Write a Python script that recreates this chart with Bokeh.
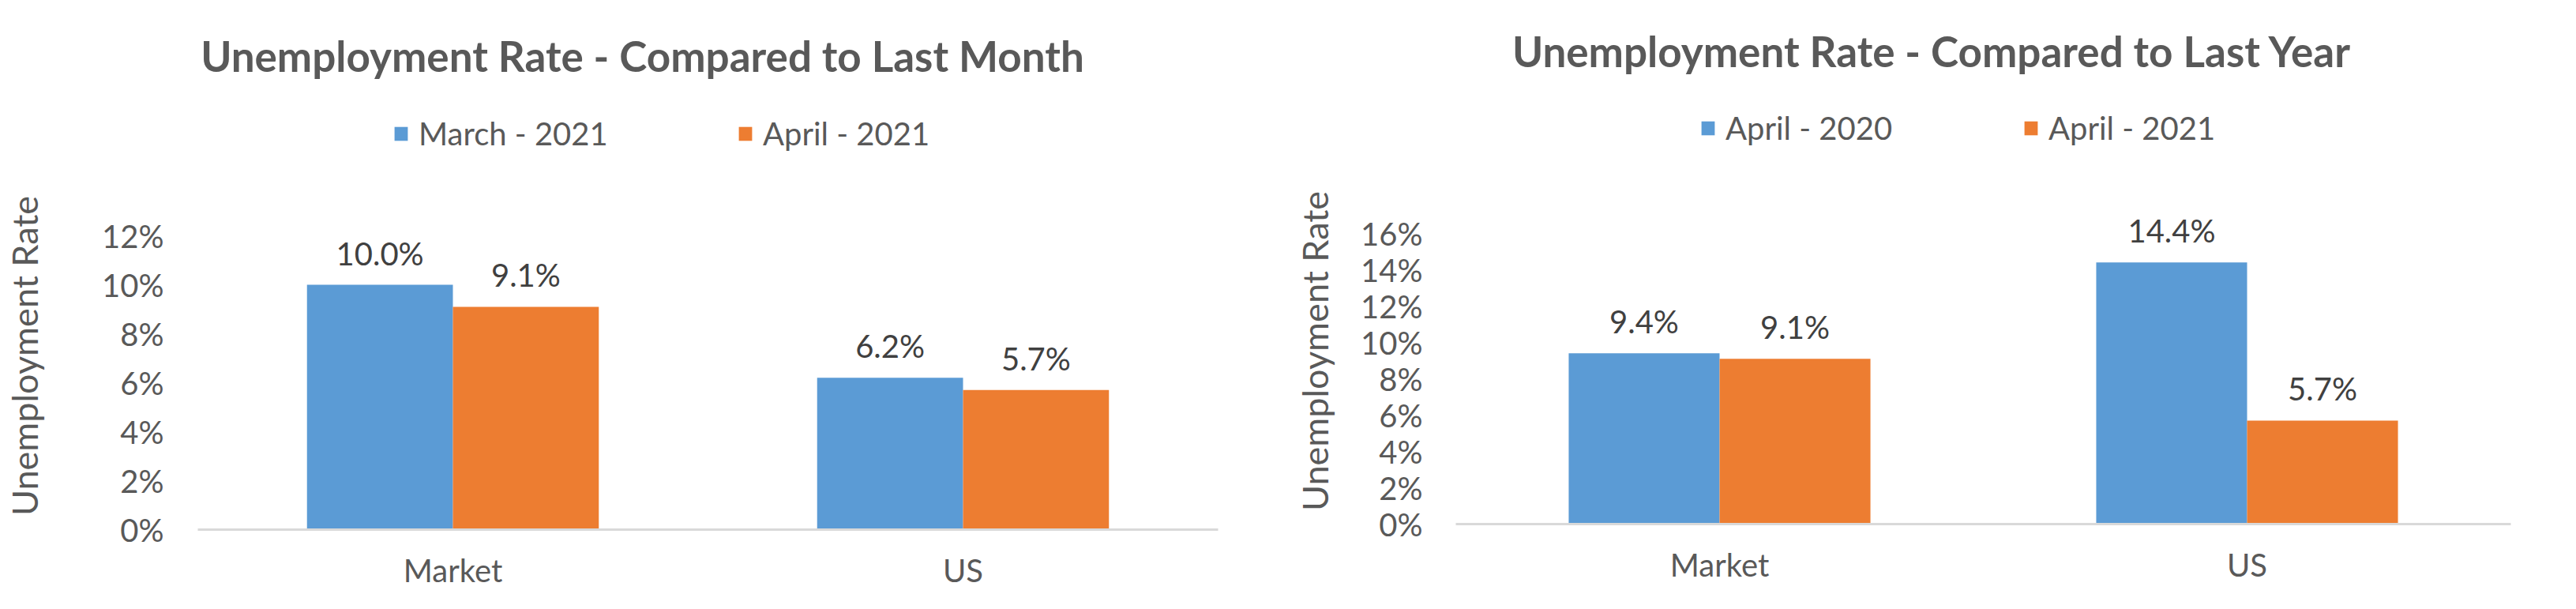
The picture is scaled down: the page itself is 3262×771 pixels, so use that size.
import math
from bokeh.plotting import figure
from bokeh.layouts import row
from bokeh.models import (Range1d, ColumnDataSource, FixedTicker,
                          PrintfTickFormatter, Label, Legend, LegendItem)
from bokeh.transform import dodge
from bokeh.embed import file_html
from bokeh.resources import INLINE
from bokeh.core.properties import value

# ---------------- data ----------------
categories = ["Market", "US"]
y_axis_title = "Unemployment Rate"

month_title = "Unemployment Rate - Compared to Last Month"
month_series = ["March - 2021", "April - 2021"]
month_march_2021 = [10.0, 6.2]
month_april_2021 = [9.1, 5.7]
month_ticks = [0, 2, 4, 6, 8, 10, 12]

year_title = "Unemployment Rate - Compared to Last Year"
year_series = ["April - 2020", "April - 2021"]
year_april_2020 = [9.4, 14.4]
year_april_2021 = [9.1, 5.7]
year_ticks = [0, 2, 4, 6, 8, 10, 12, 14, 16]

BLUE = "#5B9BD5"
ORANGE = "#ED7D31"
TEXT = "#595959"
LABEL = "#404040"
FONT = "Lato"


def make_chart(title, series, s1, s2, ticks, cfg):
    W, H = cfg["width"], 771
    base = H - cfg["bottom"]          # pixel row of the 0 % line
    ppu = cfg["ppu"]
    n = len(categories)
    cat_px = (W - cfg["left"] - cfg["right"]) / n
    xpos = [i + 0.5 for i in range(n)]

    p = figure(width=W, height=H, output_backend="svg", toolbar_location=None,
               x_range=Range1d(-cfg["left"] / cat_px, n + cfg["right"] / cat_px),
               y_range=Range1d(-cfg["bottom"] / ppu, base / ppu),
               min_border_left=0, min_border_right=0,
               min_border_top=0, min_border_bottom=0)
    p.outline_line_color = None
    p.background_fill_color = "white"
    p.border_fill_color = "white"
    p.xgrid.grid_line_color = None
    p.ygrid.grid_line_color = None

    src = ColumnDataSource(dict(
        x=xpos, cat=categories, a=s1, b=s2,
        la=[f"{v:.1f}%" for v in s1], lb=[f"{v:.1f}%" for v in s2]))

    off = 0.143
    bw = 0.286
    ra = p.vbar(x=dodge("x", -off), top="a", bottom=0, width=bw,
                source=src, fill_color=BLUE, line_color=None)
    rb = p.vbar(x=dodge("x", off), top="b", bottom=0, width=bw,
                source=src, fill_color=ORANGE, line_color=None)

    for col, lab, d in (("a", "la", -off), ("b", "lb", off)):
        p.text(x=dodge("x", d), y=col, text=lab, source=src,
               text_align="center", text_baseline="alphabetic", y_offset=-40,
               text_font=value(FONT), text_font_size="40px", text_color=LABEL)

    # y axis, drawn at the left edge of the category area
    ya = p.yaxis[0]
    ya.fixed_location = 0
    ya.ticker = FixedTicker(ticks=ticks)
    ya.formatter = PrintfTickFormatter(format="%d%%")
    ya.axis_line_color = None
    ya.major_tick_line_color = None
    ya.minor_tick_line_color = None
    ya.major_label_standoff = cfg["ystand"]
    ya.major_label_text_font = FONT
    ya.major_label_text_font_size = "40px"
    ya.major_label_text_color = TEXT

    # x axis on the 0 % line: category labels
    xa = p.xaxis[0]
    xa.fixed_location = 0
    xa.ticker = FixedTicker(ticks=xpos)
    xa.major_label_overrides = {x: c for x, c in zip(xpos, categories)}
    xa.bounds = (0, n)
    xa.axis_line_color = "#D9D9D9"
    xa.axis_line_width = 3
    xa.major_tick_line_color = None
    xa.minor_tick_line_color = None
    xa.major_label_standoff = cfg["xstand"]
    xa.major_label_text_font = FONT
    xa.major_label_text_font_size = "40px"
    xa.major_label_text_color = TEXT

    # title
    p.add_layout(Label(x=cfg["title_cx"], y=H - cfg["title_base"],
                       x_units="screen", y_units="screen", text=title,
                       text_align="center", text_baseline="alphabetic",
                       text_font=FONT, text_font_size="53px",
                       text_font_style="bold", text_color=TEXT))

    # y axis title
    p.add_layout(Label(x=cfg["yt_cx"], y=H - cfg["yt_cy"],
                       x_units="screen", y_units="screen", text=y_axis_title,
                       angle=math.pi / 2, text_align="center",
                       text_baseline="middle", text_font=FONT,
                       text_font_size="45px", text_color=TEXT))

    # legends (one item each)
    for r, name, lx in ((ra, series[0], cfg["leg1"]), (rb, series[1], cfg["leg2"])):
        leg = Legend(items=[LegendItem(label=name, renderers=[r])],
                     location=(lx, H - cfg["leg_bottom"]),
                     orientation="horizontal", glyph_width=21, glyph_height=22,
                     label_standoff=12, padding=0, margin=0, spacing=0,
                     border_line_color=None, background_fill_alpha=0,
                     label_text_font=FONT, label_text_font_size="40px",
                     label_text_color=TEXT)
        p.add_layout(leg)
    return p


left_cfg = dict(width=1631, left=250, right=89, bottom=101, ppu=31.0,
                ystand=37, xstand=21, title_cx=813, title_base=70,
                yt_cx=30, yt_cy=450, leg1=497, leg2=933, leg_bottom=193)
right_cfg = dict(width=1631, left=212, right=83, bottom=108, ppu=23.0,
                 ystand=36, xstand=21, title_cx=815, title_base=64,
                 yt_cx=33, yt_cy=444, leg1=521, leg2=930, leg_bottom=186)

p1 = make_chart(month_title, month_series, month_march_2021, month_april_2021,
                month_ticks, left_cfg)
p2 = make_chart(year_title, year_series, year_april_2020, year_april_2021,
                year_ticks, right_cfg)

layout = row(p1, p2, spacing=0)
open("out.html", "w").write(file_html(layout, INLINE))
